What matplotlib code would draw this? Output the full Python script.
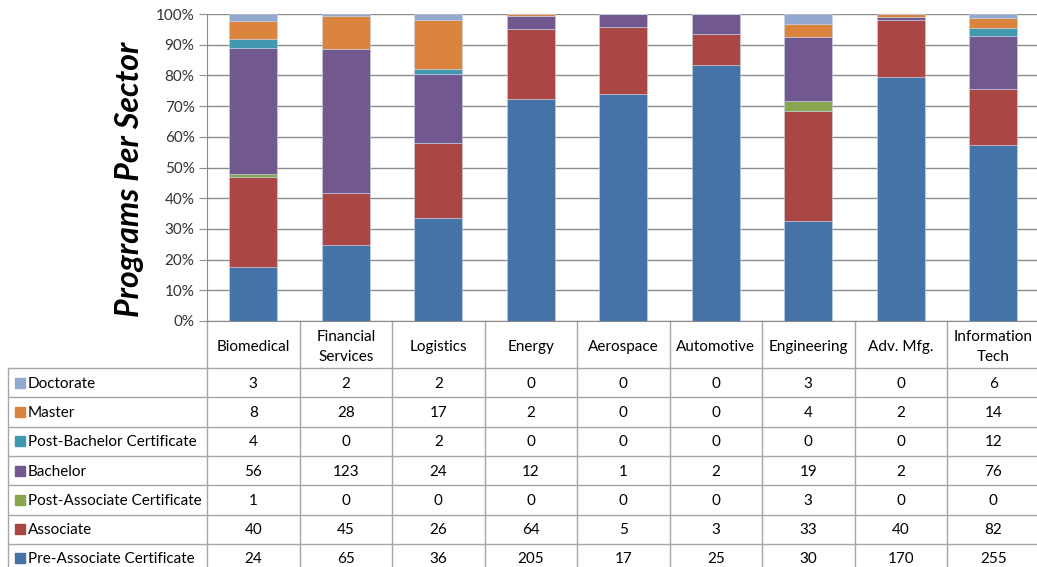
import numpy as np
import matplotlib.pyplot as plt
from matplotlib.transforms import blended_transform_factory
from matplotlib.patches import Rectangle

plt.rcParams['font.family'] = ['Lato', 'DejaVu Sans']

sectors = ['Biomedical', 'Financial\nServices', 'Logistics', 'Energy', 'Aerospace',
           'Automotive', 'Engineering', 'Adv. Mfg.', 'Information\nTech']

# stacking order, bottom -> top
levels = ['Pre-Associate Certificate', 'Associate', 'Post-Associate Certificate',
          'Bachelor', 'Post-Bachelor Certificate', 'Master', 'Doctorate']
pre_associate = [24, 65, 36, 205, 17, 25, 30, 170, 255]
associate = [40, 45, 26, 64, 5, 3, 33, 40, 82]
post_associate = [1, 0, 0, 0, 0, 0, 3, 0, 0]
bachelor = [56, 123, 24, 12, 1, 2, 19, 2, 76]
post_bachelor = [4, 0, 2, 0, 0, 0, 0, 0, 12]
master = [8, 28, 17, 2, 0, 0, 4, 2, 14]
doctorate = [3, 2, 2, 0, 0, 0, 3, 0, 6]
colors = ['#4572A7', '#AA4643', '#89A54E', '#71588F', '#4198AF', '#DB843D', '#93A9CF']

series = [pre_associate, associate, post_associate, bachelor, post_bachelor, master, doctorate]
counts = np.array(series, dtype=float)
pct = counts / counts.sum(axis=0) * 100

W, H = 1037, 567
fig = plt.figure(figsize=(W / 100, H / 100), dpi=100)


def fx(p):
    return p / W


def fy(p):
    return 1 - p / H


top_px, bot_px, left_px, cat_w = 14, 321, 207, 92.5
ax = fig.add_axes([fx(left_px), fy(bot_px), 9 * cat_w / W, (bot_px - top_px) / H])

x = np.arange(len(sectors))
bottom = np.zeros(len(sectors))
for vals, c, name in zip(pct, colors, levels):
    ax.bar(x, vals, 0.52, bottom=bottom, color=c, edgecolor='#c8d2e6',
           linewidth=0.4, label=name, zorder=3)
    bottom += vals

ax.set_xlim(-0.5, len(sectors) - 0.5)
ax.set_ylim(0, 100)
ax.set_yticks(np.arange(0, 101, 10))
ax.set_yticklabels([f'{v}%' for v in range(0, 101, 10)], fontsize=11, color='#333333')
ax.set_xticks([])
ax.yaxis.grid(True, color='#8c8c8c', linewidth=1, zorder=0)
ax.tick_params(axis='y', length=6, color='#8c8c8c', pad=3)
for s in ['top', 'right']:
    ax.spines[s].set_visible(False)
ax.spines['left'].set_color('#8c8c8c')
ax.spines['bottom'].set_color('#8c8c8c')

fig.text(fx(129), fy(179), 'Programs Per Sector', rotation=90, fontsize=23,
         fontweight='bold', fontstyle='italic', ha='center', va='center')

# data table beneath the chart
tr = blended_transform_factory(ax.transData, fig.transFigure)
line_c = '#a6a6a6'
row_top, row_h = 368, 29.3

for i, s in enumerate(sectors):
    ax.text(i, fy(347), s, transform=tr, ha='center', va='center',
            fontsize=11, linespacing=1.55, clip_on=False)

for b in np.arange(-0.5, len(sectors) + 0.5, 1):
    ax.plot([b, b], [fy(bot_px), 0], transform=tr, color=line_c, lw=1, clip_on=False)

fig.add_artist(plt.Line2D([fx(8), fx(8)], [fy(row_top), 0], color=line_c, lw=1))
for k in range(8):
    yy = fy(row_top + k * row_h)
    fig.add_artist(plt.Line2D([fx(8), 1], [yy, yy], color=line_c, lw=1))

table_rows = list(reversed(list(zip(levels, colors, series))))
for k, (name, c, vals) in enumerate(table_rows):
    yc = row_top + (k + 0.5) * row_h + 1
    fig.add_artist(Rectangle((fx(15), fy(yc + 4)), fx(10), 10 / H,
                             transform=fig.transFigure, color=c))
    fig.text(fx(28), fy(yc), name, ha='left', va='center', fontsize=11)
    for i, v in enumerate(vals):
        ax.text(i, fy(yc), str(v), transform=tr, ha='center', va='center',
                fontsize=11, clip_on=False)

fig.savefig('out.png', dpi=100)
